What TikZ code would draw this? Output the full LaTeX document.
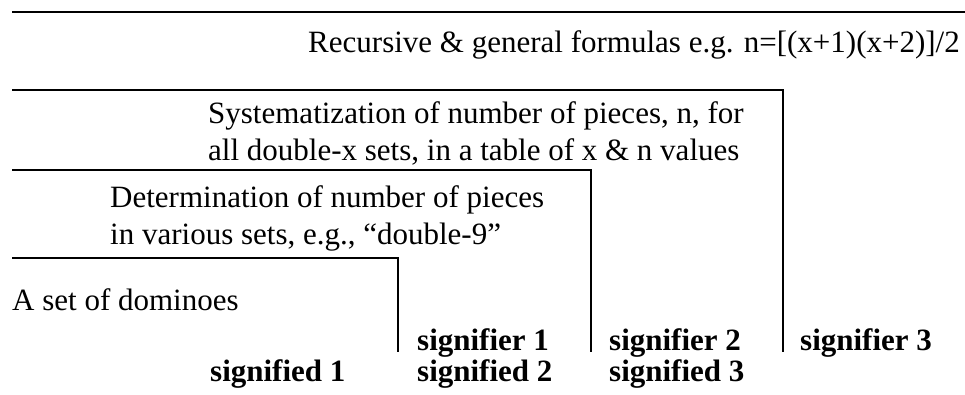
\documentclass[tikz,border=0pt]{standalone}
\usepackage{fontspec}
\setmainfont{Liberation Serif}
\usepackage{tikz}
\usetikzlibrary{positioning}
\tikzset{lvl/.style={inner sep=0pt,anchor=base west,font=\fontsize{31}{37}\selectfont},
  sig/.style={lvl,font=\fontsize{31}{37}\selectfont\bfseries},
  brk/.style={line width=2pt}}
\begin{document}
\begin{tikzpicture}[x=1pt,y=-1pt]
\useasboundingbox (0,0) rectangle (965,394);
% brackets, one per level
\coordinate (l1) at (12,12);   \coordinate (r1) at (965,12);
\coordinate (l2) at (12,90);   \coordinate (c2) at (783,90);  \coordinate (e2) at (783,352);
\coordinate (l3) at (12,170);  \coordinate (c3) at (591,170); \coordinate (e3) at (591,352);
\coordinate (l4) at (12,258);  \coordinate (c4) at (398,258); \coordinate (e4) at (398,352);
\draw[brk] (l1)--(r1);
\draw[brk] (l2)--(c2)--(e2);
\draw[brk] (l3)--(c3)--(e3);
\draw[brk] (l4)--(c4)--(e4);
% level texts
\node[lvl,anchor=base east] (form) at (960,52) {Recursive \& general formulas e.g. n=[(x+1)(x+2)]/2};
\node[lvl] (sys1) at (208,123) {Systematization of number of pieces, n, for};
\node[lvl] (sys2) at (208,160) {all double-x sets, in a table of x \& n values};
\node[lvl] (det1) at (110,207) {Determination of number of pieces};
\node[lvl] (det2) at (110,244) {in various sets, e.g., ``double-9''};
\node[lvl] (dom) at (12,310) {A set of dominoes};
% signifiers and signifieds
\node[sig] (sr1) at (417,350) {signifier 1};
\node[sig] (sr2) at (609,350) {signifier 2};
\node[sig] (sr3) at (800,350) {signifier 3};
\node[sig] (sd1) at (210,381) {signified 1};
\node[sig] (sd2) at (417,381) {signified 2};
\node[sig] (sd3) at (609,381) {signified 3};
\end{tikzpicture}
\end{document}
